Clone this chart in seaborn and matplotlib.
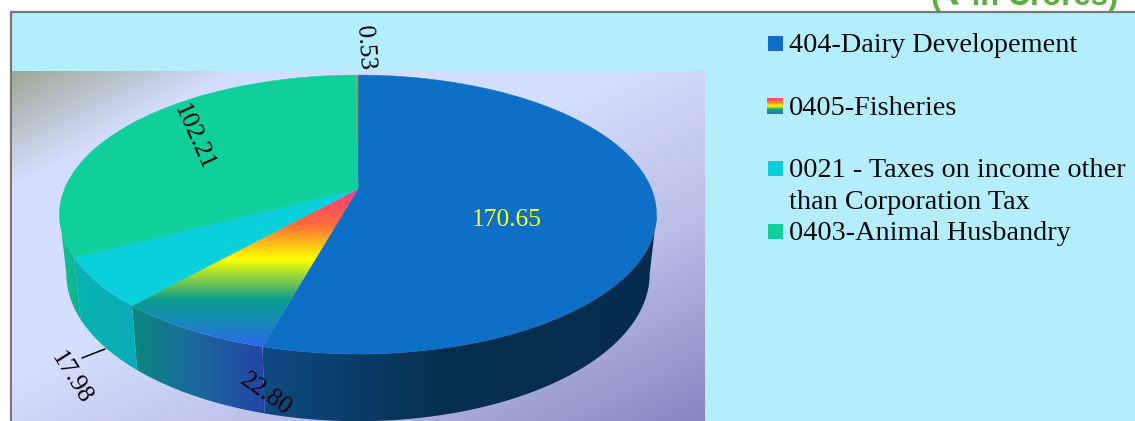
import numpy as np
import matplotlib
matplotlib.use("Agg")
import matplotlib.pyplot as plt
from matplotlib.colors import LinearSegmentedColormap
from matplotlib.patches import Polygon, Rectangle
import seaborn as sns

# ---- data ----
values = [170.65, 22.80, 17.98, 102.21, 0.53]
value_labels = ["170.65", "22.80", "17.98", "102.21", "0.53"]
legend_lines = ["404-Dairy Developement", "0405-Fisheries",
                "0021 - Taxes on income other", "than Corporation Tax",
                "0403-Animal Husbandry"]
unit_text = "(₹ in Crores)"

# ---- style ----
BG = "#B4EDFC"
top_colors = sns.color_palette(["#0E6FC6", "#0E6FC6", "#0BCFDA", "#0FCF9A", "#6AB060"])
sns.set_theme(style="white")
SERIF = "Liberation Serif"

fig = plt.figure(figsize=(11.35, 4.21), dpi=100, facecolor="white")
ax = fig.add_axes([0, 0, 1, 1])
ax.set_xlim(0, 1135)
ax.set_ylim(421, 0)
ax.axis("off")


def grad_image(stops, extent, horizontal=False, clip=None, z=1, n=400):
    cmap = LinearSegmentedColormap.from_list("g", stops, N=512)
    arr = np.linspace(0, 1, n)
    arr = arr[None, :] if horizontal else arr[:, None]
    im = ax.imshow(arr, cmap=cmap, vmin=0, vmax=1, extent=extent, aspect="auto",
                   origin="upper", zorder=z, interpolation="bilinear")
    if clip is not None:
        patch = Polygon(clip, closed=True, transform=ax.transData, fc="none", ec="none")
        ax.add_patch(patch)
        im.set_clip_path(patch)
    return im


# frame and backgrounds
ax.add_patch(Rectangle((11, 12), 1130, 420, fc=BG, ec="#787878", lw=1.6, zorder=0))

yy, xx = np.mgrid[0:350, 0:693]
t = 0.5 * xx / 693 + 0.5 * yy / 350
bg_cmap = LinearSegmentedColormap.from_list(
    "bg", [(0, "#9CA898"), (0.16, "#D3DDFC"), (0.45, "#D3DDFC"),
           (0.7, "#BABEE8"), (1, "#8585C0")], N=512)
ax.imshow(t, cmap=bg_cmap, vmin=0, vmax=1, extent=(12, 705, 421, 71),
          aspect="auto", zorder=0.5, interpolation="bilinear")

# ---- projected pie geometry ----
CX, CY, A, B, K = 358.0, 189.0, 293.5, 134.8, 0.183
SHRINK, DEPTH = 0.977, 58.0
WALL_LO = np.arccos(-K)
WALL_HI = 2 * np.pi - WALL_LO


def top_ring(theta):
    X, Z = np.sin(theta), np.cos(theta)
    d = 1 + K * Z
    return CX + A * X / d, CY - B * Z / d


def bottom_ring(theta):
    X, Z = np.sin(theta), np.cos(theta)
    d = 1 + K * Z
    return CX + SHRINK * A * X / d, CY + (DEPTH - SHRINK * B * Z) / d


fractions = np.array(values) / np.sum(values)
edges = np.concatenate([[0], np.cumsum(fractions)]) * 2 * np.pi

side_styles = [
    [(0, "#0F4A83"), (0.45, "#06304F"), (1, "#052C4F")],
    [(0, "#0A8A80"), (0.45, "#1B6A9B"), (1, "#2444A8")],
    [(0, "#09B3AE"), (1, "#0AABB8")],
    [(0, "#12C690"), (1, "#0CAE94")],
    [(0, "#6AB060"), (1, "#6AB060")],
]
# walls
for i in range(len(values)):
    lo, hi = max(edges[i], WALL_LO), min(edges[i + 1], WALL_HI)
    if hi <= lo:
        continue
    th = np.linspace(lo, hi, 160)
    tx, ty = top_ring(th)
    bx, by = bottom_ring(th)
    poly = np.column_stack([np.r_[tx, bx[::-1]], np.r_[ty, by[::-1]]])
    x0, x1 = poly[:, 0].min(), poly[:, 0].max()
    grad_image(side_styles[i], (x0, x1, 440, 60), horizontal=True, clip=poly, z=2)

# top faces
for i in range(len(values)):
    th = np.linspace(edges[i], edges[i + 1], max(3, int(400 * fractions[i])))
    tx, ty = top_ring(th)
    poly = np.column_stack([np.r_[CX, tx], np.r_[CY, ty]])
    if i == 1:
        grad_image([(0, "#FF3A80"), (0.22, "#FF6A3A"), (0.44, "#FFFF00"),
                    (0.70, "#0A9C8E"), (0.86, "#1A85C0"), (1, "#2E66F0")],
                   (60, 360, ty.max() + 1, CY), clip=poly, z=3)
    else:
        ax.add_patch(Polygon(poly, closed=True, fc=top_colors[i], ec=top_colors[i],
                             lw=0.3, zorder=3))

# value labels
label_pos = [(507, 220, 0, "#FFFF00"), (266, 395, -35, "black"),
             (71, 378, -58, "black"), (194, 138, -66, "black"),
             (365, 48, -86, "black")]
LABEL_PX = 25.5
for txt, (x, y, rot, col) in zip(value_labels, label_pos):
    ax.text(x, y, txt, rotation=rot, rotation_mode="anchor", ha="center", va="center",
            color=col, fontsize=LABEL_PX / 1.389, family=SERIF, zorder=5)
ax.plot([82, 105], [358, 349], color="black", lw=1.1, zorder=5)

# legend
swatches = [(768, 36, top_colors[0]), (768, 161, top_colors[2]), (768, 224, top_colors[3])]
for x, y, c in swatches:
    ax.add_patch(Rectangle((x, y), 15, 15, fc=c, ec="none", zorder=4))
grad_image([(0, "#FF3A80"), (0.3, "#FF8A20"), (0.5, "#FFFF00"), (0.72, "#10A080"),
            (1, "#2A70D8")], (767, 783, 114, 98), z=4)
rows = [52, 115, 177, 209, 240]
for txt, y in zip(legend_lines, rows):
    ax.text(789, y, txt, fontsize=28.3 / 1.389, family=SERIF, color="#0A0A0A",
            va="baseline", ha="left", zorder=5)

# clipped unit note above the frame
ax.text(1118, 5, unit_text, fontsize=31 / 1.389, family=["Liberation Sans", "DejaVu Sans"],
        weight="bold", color="#5AAE3C", ha="right", va="baseline", zorder=-1)

ax.set_xlim(0, 1135)
ax.set_ylim(421, 0)
fig.savefig("out.png", dpi=100, facecolor="white")
